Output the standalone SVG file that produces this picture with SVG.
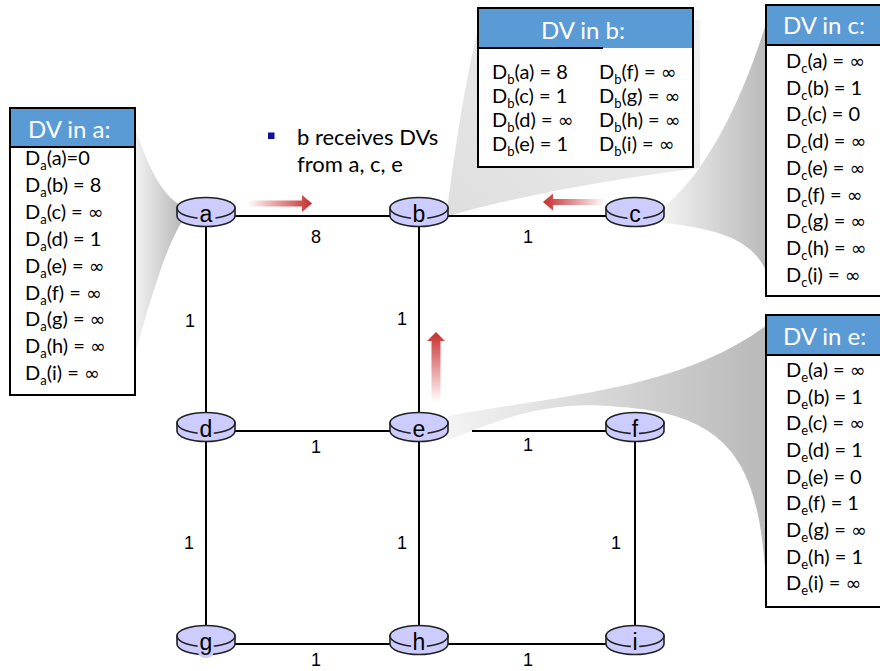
<svg xmlns="http://www.w3.org/2000/svg" width="880" height="671" viewBox="0 0 880 671">
  <defs>
    <linearGradient id="callout" x1="0" y1="0" x2="1" y2="0">
      <stop offset="0" stop-color="#f3f3f3"/>
      <stop offset="1" stop-color="#b9b9b9"/>
    </linearGradient>
    <linearGradient id="calloutLight" x1="0" y1="1" x2="1" y2="0">
      <stop offset="0" stop-color="#dedede"/>
      <stop offset="1" stop-color="#f2f2f2"/>
    </linearGradient>
    <linearGradient id="arrowRight" gradientUnits="userSpaceOnUse" x1="247" y1="0" x2="312" y2="0">
      <stop offset="0" stop-color="#c62d2d" stop-opacity="0"/>
      <stop offset="1" stop-color="#c62d2d"/>
    </linearGradient>
    <linearGradient id="arrowLeft" gradientUnits="userSpaceOnUse" x1="605" y1="0" x2="543" y2="0">
      <stop offset="0" stop-color="#c62d2d" stop-opacity="0"/>
      <stop offset="1" stop-color="#c62d2d"/>
    </linearGradient>
    <linearGradient id="arrowUp" gradientUnits="userSpaceOnUse" x1="0" y1="402" x2="0" y2="332">
      <stop offset="0" stop-color="#c62d2d" stop-opacity="0"/>
      <stop offset="1" stop-color="#c62d2d"/>
    </linearGradient>
  </defs>
  <style>
    .link { stroke: #000; stroke-width: 2; fill: none; }
    .cost { font-family: "Liberation Sans", Arial, sans-serif; font-size: 18px; fill: #000; text-anchor: middle; }
    .router { fill: #ccccff; stroke: #222; stroke-width: 1.6; }
    .rlabel { font-family: "Liberation Sans", Arial, sans-serif; font-size: 23px; fill: #000; text-anchor: middle;
              stroke: #ccccff; stroke-width: 6; paint-order: stroke; }
    .tbox { fill: #fff; stroke: #000; stroke-width: 2; }
    .thead { fill: #5b9bd5; }
    .htext { font-family: Lato, "Open Sans", sans-serif; font-size: 24px; fill: #fff; }
    .row { font-family: Lato, "Open Sans", sans-serif; font-size: 20px; fill: #000; }
    .sub { font-size: 13px; }
    .inf { font-family: "DejaVu Sans", sans-serif; font-size: 19px; }
    .note { font-family: Lato, "Open Sans", sans-serif; font-size: 22px; fill: #000; }
  </style>

  <!-- speech-bubble style callouts joining routers to their tables -->
  <g id="callouts">
    <path d="M135 128 C150 170 160 192 180 205 L181 223 C165 250 150 300 135 355 Z" fill="url(#callout)"/>
    <path d="M447 210 C455 150 465 80 478 30 L700 20 L700 168 C620 178 520 195 449 216 Z" fill="url(#calloutLight)"/>
    <path d="M662 208 C700 180 740 110 767 20 L767 273 C755 245 730 230 664 223 Z" fill="url(#callout)"/>
    <path d="M448 416 C560 395 680 390 767 325 L767 605 C762 480 745 415 620 407 C540 398 490 425 448 440 Z" fill="url(#callout)"/>
  </g>

  <!-- links with their costs -->
  <g id="links">
    <line class="link" x1="205" y1="216" x2="419" y2="216"/>
    <line class="link" x1="419" y1="216" x2="635" y2="216"/>
    <line class="link" x1="206" y1="216" x2="206" y2="431"/>
    <line class="link" x1="419" y1="216" x2="419" y2="431"/>
    <line class="link" x1="205" y1="431" x2="419" y2="431"/>
    <line class="link" x1="472" y1="431" x2="635" y2="431"/>
    <line class="link" x1="206" y1="431" x2="206" y2="644"/>
    <line class="link" x1="419" y1="431" x2="419" y2="644"/>
    <line class="link" x1="635" y1="431" x2="635" y2="644"/>
    <line class="link" x1="205" y1="644" x2="419" y2="644"/>
    <line class="link" x1="419" y1="644" x2="635" y2="644"/>
    <text class="cost" x="316" y="243">8</text>
    <text class="cost" x="528" y="243">1</text>
    <text class="cost" x="190" y="327">1</text>
    <text class="cost" x="402" y="325">1</text>
    <text class="cost" x="316" y="453">1</text>
    <text class="cost" x="528" y="451">1</text>
    <text class="cost" x="189" y="549">1</text>
    <text class="cost" x="402" y="549">1</text>
    <text class="cost" x="616" y="549">1</text>
    <text class="cost" x="316" y="666">1</text>
    <text class="cost" x="528" y="666">1</text>
  </g>

  <!-- routers: a short cylinder with the name on its front -->
  <defs>
    <g id="router">
      <path class="router" d="M-29 -8 L-29 0 A29 10.5 0 0 0 29 0 L29 -8 Z"/>
      <ellipse class="router" cx="0" cy="-8" rx="29" ry="10.5"/>
    </g>
  </defs>
  <g id="node-a"><use href="#router" x="206" y="216"/><text class="rlabel" x="206" y="222">a</text></g>
  <g id="node-b"><use href="#router" x="419" y="216"/><text class="rlabel" x="419" y="222">b</text></g>
  <g id="node-c"><use href="#router" x="635" y="216"/><text class="rlabel" x="635" y="222">c</text></g>
  <g id="node-d"><use href="#router" x="206" y="431"/><text class="rlabel" x="206" y="437">d</text></g>
  <g id="node-e"><use href="#router" x="419" y="431"/><text class="rlabel" x="419" y="437">e</text></g>
  <g id="node-f"><use href="#router" x="635" y="431"/><text class="rlabel" x="635" y="437">f</text></g>
  <g id="node-g"><use href="#router" x="206" y="644"/><text class="rlabel" x="206" y="650">g</text></g>
  <g id="node-h"><use href="#router" x="419" y="644"/><text class="rlabel" x="419" y="650">h</text></g>
  <g id="node-i"><use href="#router" x="635" y="644"/><text class="rlabel" x="635" y="650">i</text></g>

  <!-- DVs flowing into b -->
  <g id="arrows">
    <path d="M247 200.5 L302 200.5 L302 195 L312 203.5 L302 212 L302 206.5 L247 206.5 Z" fill="url(#arrowRight)"/>
    <path d="M605 199 L553 199 L553 193.5 L543 202 L553 210.5 L553 205 L605 205 Z" fill="url(#arrowLeft)"/>
    <path d="M431.5 402 L431.5 341 L427 341 L436 332 L445 341 L440.5 341 L440.5 402 Z" fill="url(#arrowUp)"/>
  </g>

  <g id="note">
    <rect x="268" y="132.5" width="6.5" height="6.5" fill="#1010a0"/>
    <text class="note" x="297" y="145">b receives DVs</text>
    <text class="note" x="297" y="172">from a, c, e</text>
  </g>

  <!-- distance vector tables -->
  <g id="table-a">
    <rect class="tbox" x="10" y="108" width="125" height="287"/>
    <rect class="thead" x="10" y="108" width="125" height="39"/>
    <line class="link" x1="10" y1="147" x2="135" y2="147"/>
    <rect x="10" y="108" width="125" height="287" fill="none" stroke="#000" stroke-width="2"/>
    <text class="htext" x="28" y="138">DV in a:</text>
    <text class="row" x="25" y="165">D<tspan class="sub" dy="5">a</tspan><tspan dy="-5">(a)=0</tspan></text>
    <text class="row" x="25" y="192">D<tspan class="sub" dy="5">a</tspan><tspan dy="-5">(b) = 8</tspan></text>
    <text class="row" x="25" y="219">D<tspan class="sub" dy="5">a</tspan><tspan dy="-5">(c) = </tspan><tspan class="inf">∞</tspan></text>
    <text class="row" x="25" y="246">D<tspan class="sub" dy="5">a</tspan><tspan dy="-5">(d) = 1</tspan></text>
    <text class="row" x="25" y="273">D<tspan class="sub" dy="5">a</tspan><tspan dy="-5">(e) = </tspan><tspan class="inf">∞</tspan></text>
    <text class="row" x="25" y="300">D<tspan class="sub" dy="5">a</tspan><tspan dy="-5">(f) = </tspan><tspan class="inf">∞</tspan></text>
    <text class="row" x="25" y="326">D<tspan class="sub" dy="5">a</tspan><tspan dy="-5">(g) = </tspan><tspan class="inf">∞</tspan></text>
    <text class="row" x="25" y="353">D<tspan class="sub" dy="5">a</tspan><tspan dy="-5">(h) = </tspan><tspan class="inf">∞</tspan></text>
    <text class="row" x="25" y="380">D<tspan class="sub" dy="5">a</tspan><tspan dy="-5">(i) = </tspan><tspan class="inf">∞</tspan></text>
  </g>

  <g id="table-b">
    <rect class="tbox" x="478" y="8" width="215" height="159"/>
    <rect class="thead" x="478" y="8" width="215" height="40"/>
    <line class="link" x1="478" y1="48" x2="603" y2="48"/>
    <rect x="478" y="8" width="215" height="159" fill="none" stroke="#000" stroke-width="2"/>
    <text class="htext" x="541" y="39">DV in b:</text>
    <text class="row" x="492" y="79">D<tspan class="sub" dy="5">b</tspan><tspan dy="-5">(a) = 8</tspan></text>
    <text class="row" x="492" y="103">D<tspan class="sub" dy="5">b</tspan><tspan dy="-5">(c) = 1</tspan></text>
    <text class="row" x="492" y="127">D<tspan class="sub" dy="5">b</tspan><tspan dy="-5">(d) = </tspan><tspan class="inf">∞</tspan></text>
    <text class="row" x="492" y="151">D<tspan class="sub" dy="5">b</tspan><tspan dy="-5">(e) = 1</tspan></text>
    <text class="row" x="599" y="79">D<tspan class="sub" dy="5">b</tspan><tspan dy="-5">(f) = </tspan><tspan class="inf">∞</tspan></text>
    <text class="row" x="599" y="103">D<tspan class="sub" dy="5">b</tspan><tspan dy="-5">(g) = </tspan><tspan class="inf">∞</tspan></text>
    <text class="row" x="599" y="127">D<tspan class="sub" dy="5">b</tspan><tspan dy="-5">(h) = </tspan><tspan class="inf">∞</tspan></text>
    <text class="row" x="599" y="151">D<tspan class="sub" dy="5">b</tspan><tspan dy="-5">(i) = </tspan><tspan class="inf">∞</tspan></text>
  </g>

  <g id="table-c">
    <rect class="tbox" x="766" y="5" width="140" height="291"/>
    <rect class="thead" x="766" y="5" width="140" height="40"/>
    <line class="link" x1="766" y1="45" x2="906" y2="45"/>
    <rect x="766" y="5" width="140" height="291" fill="none" stroke="#000" stroke-width="2"/>
    <text class="htext" x="783" y="34">DV in c:</text>
    <text class="row" x="786" y="68">D<tspan class="sub" dy="5">c</tspan><tspan dy="-5">(a) = </tspan><tspan class="inf">∞</tspan></text>
    <text class="row" x="786" y="95">D<tspan class="sub" dy="5">c</tspan><tspan dy="-5">(b) = 1</tspan></text>
    <text class="row" x="786" y="121">D<tspan class="sub" dy="5">c</tspan><tspan dy="-5">(c) = 0</tspan></text>
    <text class="row" x="786" y="148">D<tspan class="sub" dy="5">c</tspan><tspan dy="-5">(d) = </tspan><tspan class="inf">∞</tspan></text>
    <text class="row" x="786" y="175">D<tspan class="sub" dy="5">c</tspan><tspan dy="-5">(e) = </tspan><tspan class="inf">∞</tspan></text>
    <text class="row" x="786" y="202">D<tspan class="sub" dy="5">c</tspan><tspan dy="-5">(f) = </tspan><tspan class="inf">∞</tspan></text>
    <text class="row" x="786" y="228">D<tspan class="sub" dy="5">c</tspan><tspan dy="-5">(g) = </tspan><tspan class="inf">∞</tspan></text>
    <text class="row" x="786" y="255">D<tspan class="sub" dy="5">c</tspan><tspan dy="-5">(h) = </tspan><tspan class="inf">∞</tspan></text>
    <text class="row" x="786" y="282">D<tspan class="sub" dy="5">c</tspan><tspan dy="-5">(i) = </tspan><tspan class="inf">∞</tspan></text>
  </g>

  <g id="table-e">
    <rect class="tbox" x="766" y="315" width="140" height="292"/>
    <rect class="thead" x="766" y="315" width="140" height="40"/>
    <line class="link" x1="766" y1="355" x2="906" y2="355"/>
    <rect x="766" y="315" width="140" height="292" fill="none" stroke="#000" stroke-width="2"/>
    <text class="htext" x="783" y="345">DV in e:</text>
    <text class="row" x="786" y="377">D<tspan class="sub" dy="5">e</tspan><tspan dy="-5">(a) = </tspan><tspan class="inf">∞</tspan></text>
    <text class="row" x="786" y="404">D<tspan class="sub" dy="5">e</tspan><tspan dy="-5">(b) = 1</tspan></text>
    <text class="row" x="786" y="430">D<tspan class="sub" dy="5">e</tspan><tspan dy="-5">(c) = </tspan><tspan class="inf">∞</tspan></text>
    <text class="row" x="786" y="457">D<tspan class="sub" dy="5">e</tspan><tspan dy="-5">(d) = 1</tspan></text>
    <text class="row" x="786" y="484">D<tspan class="sub" dy="5">e</tspan><tspan dy="-5">(e) = 0</tspan></text>
    <text class="row" x="786" y="510">D<tspan class="sub" dy="5">e</tspan><tspan dy="-5">(f) = 1</tspan></text>
    <text class="row" x="786" y="537">D<tspan class="sub" dy="5">e</tspan><tspan dy="-5">(g) = </tspan><tspan class="inf">∞</tspan></text>
    <text class="row" x="786" y="564">D<tspan class="sub" dy="5">e</tspan><tspan dy="-5">(h) = 1</tspan></text>
    <text class="row" x="786" y="590">D<tspan class="sub" dy="5">e</tspan><tspan dy="-5">(i) = </tspan><tspan class="inf">∞</tspan></text>
  </g>
</svg>
